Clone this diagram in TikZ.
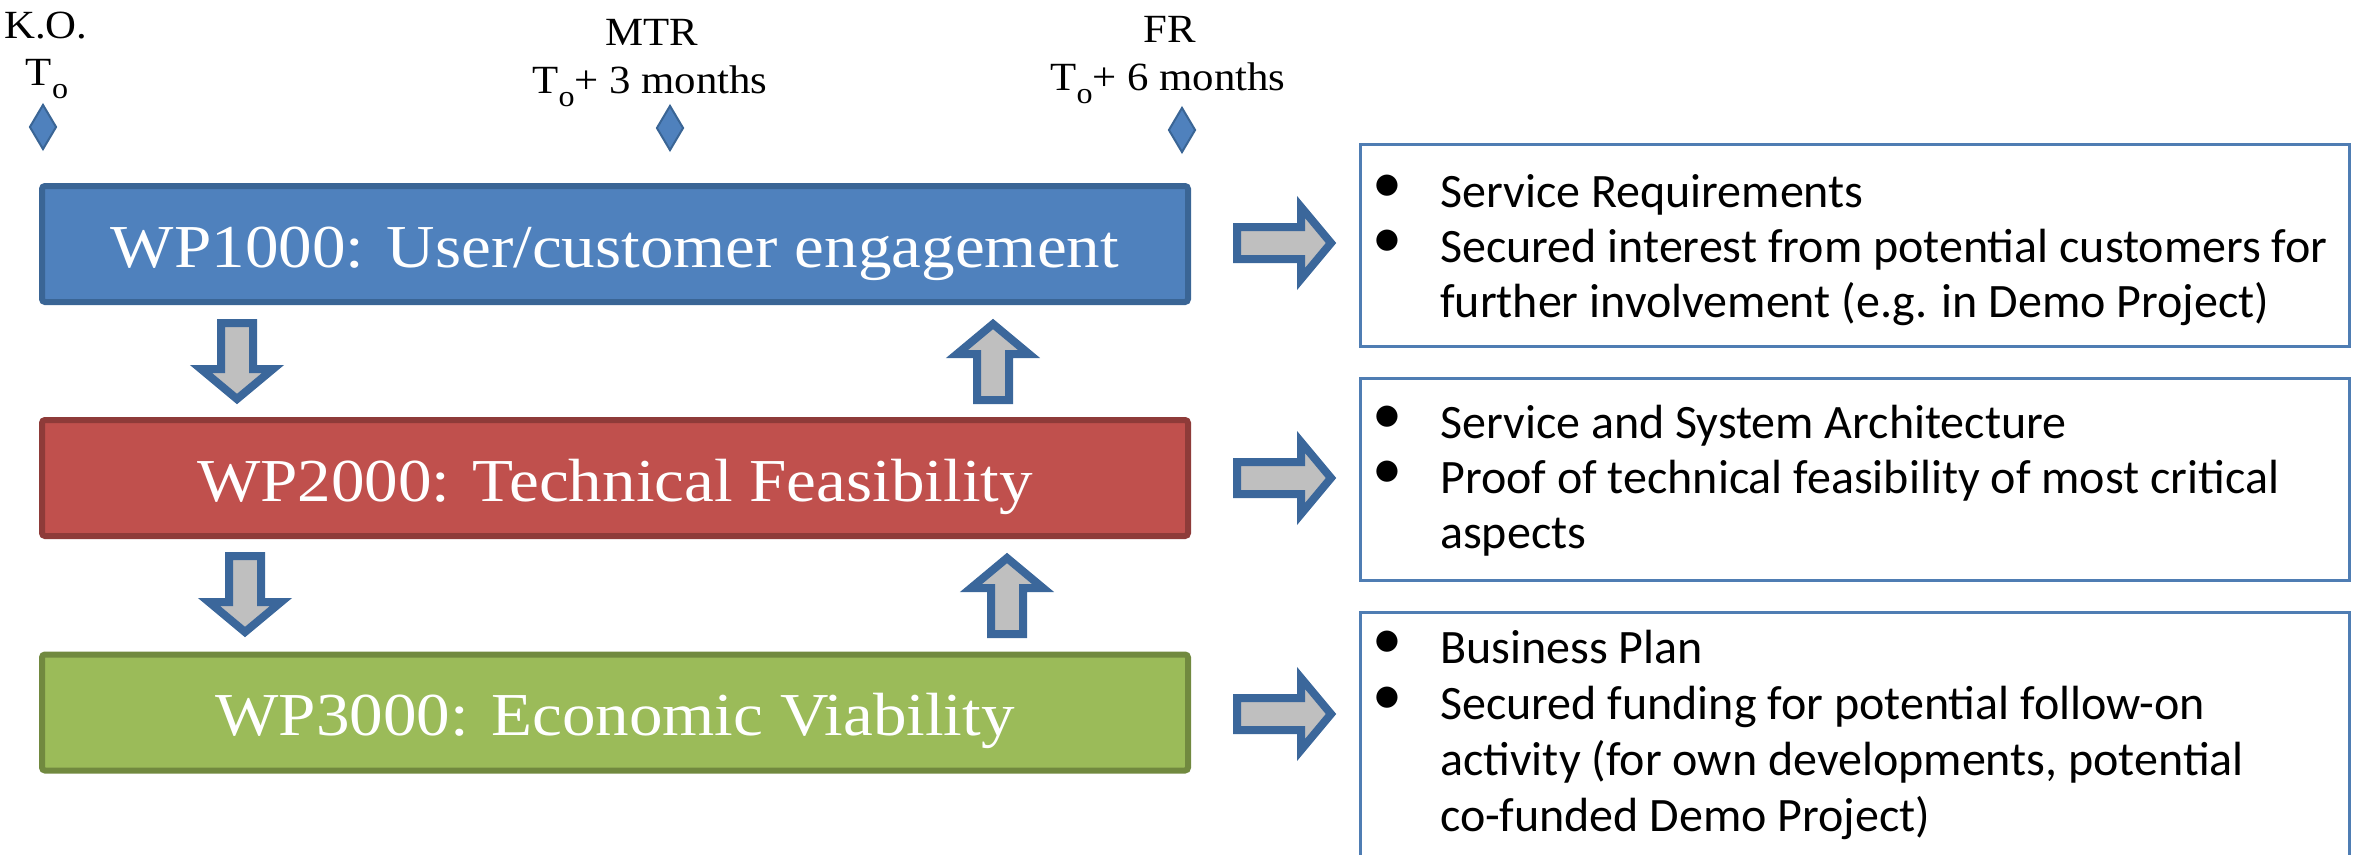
\documentclass[tikz,border=0pt]{standalone}
\usepackage{fontspec}
\usepackage{graphicx}
\setmainfont{Liberation Serif}
\newfontfamily\calfont{Carlito}
\usetikzlibrary{shapes.geometric}
\definecolor{wpblue}{HTML}{4F81BD}
\definecolor{wpblueD}{HTML}{3A6595}
\definecolor{wpred}{HTML}{C0504D}
\definecolor{wpredD}{HTML}{8E3B39}
\definecolor{wpgreen}{HTML}{9BBB59}
\definecolor{wpgreenD}{HTML}{71893F}
\definecolor{arrgray}{HTML}{BFBFBF}
\definecolor{arrblue}{HTML}{3B679B}
\definecolor{boxblue}{HTML}{4F7DB3}
\newcommand{\tsub}{\raisebox{-13pt}{\fontsize{30}{30}\selectfont o}}
\begin{document}
\begin{tikzpicture}[x=1pt,y=-1pt,
  wpbox/.style={draw, line width=6pt, minimum width=1146pt, minimum height=116pt,
    rounded corners=3pt, text=white, font=\fontsize{61}{70}\selectfont,
    text height=46pt, text depth=0pt, inner sep=0pt},
  outbox/.style={draw=boxblue, line width=3pt, fill=white, inner sep=0pt, minimum width=989pt},
  btxt/.style={font=\calfont\fontsize{48}{56}\selectfont, inner sep=0pt, anchor=base west},
  bdot/.style={font=\calfont\fontsize{60}{60}\selectfont, inner sep=0pt, anchor=center},
  toplab/.style={font=\fontsize{40}{48}\selectfont, inner sep=0pt, anchor=base},
  mdiam/.style={diamond, fill=wpblue, draw=wpblueD, line width=2pt, minimum width=27pt, minimum height=45pt, inner sep=0pt},
  blockarrow/.style={fill=arrgray, draw=arrblue, line width=8pt},
  rarr/.pic={\path[blockarrow] (-47,-16) -- (17,-16) -- (17,-36) -- (47,0) -- (17,36) -- (17,16) -- (-47,16) -- cycle;},
  darr/.pic={\path[blockarrow] (-16,-39) -- (16,-39) -- (16,7) -- (36,7) -- (0,37) -- (-36,7) -- (-16,7) -- cycle;}
]
\useasboundingbox (0,0) rectangle (2358,854);
\clip (0,0) rectangle (2358,854);

% milestones
\node[toplab] (ko) at (46,38) {\scalebox{1.07}[1]{K.O.}};
\node[toplab] (kot) at (47,85) {\scalebox{1.07}[1]{T\tsub}};
\node[toplab] (mtr) at (652,45) {\scalebox{1.07}[1]{MTR}};
\node[toplab] (mtrt) at (650,93) {\scalebox{1.07}[1]{T\tsub+ 3 months}};
\node[toplab] (fr) at (1170,42) {\scalebox{1.07}[1]{FR}};
\node[toplab] (frt) at (1168,90) {\scalebox{1.07}[1]{T\tsub+ 6 months}};
\node[mdiam] (d1) at (43,127) {};
\node[mdiam] (d2) at (670,128) {};
\node[mdiam] (d3) at (1182,130) {};

% work packages
\node[wpbox, fill=wpblue, draw=wpblueD] (wp1) at (615,244) {\scalebox{1.1}[1]{WP1000: User/customer engagement}};
\node[wpbox, fill=wpred, draw=wpredD] (wp2) at (615,478) {\scalebox{1.1}[1]{WP2000: Technical Feasibility}};
\node[wpbox, fill=wpgreen, draw=wpgreenD] (wp3) at (615,712.5) {\scalebox{1.1}[1]{WP3000: Economic Viability}};

% vertical arrows
\pic at (237,362) {darr};
\pic at (245,595) {darr};
\pic[rotate=180] at (993,361) {darr};
\pic[rotate=180] at (1007,595) {darr};

% right arrows
\pic at (1284,243) {rarr};
\pic at (1284,478) {rarr};
\pic at (1284,714) {rarr};

% output boxes
\node[outbox, minimum height=202pt] (ob1) at (1855,245.5) {};
\node[outbox, minimum height=202pt] (ob2) at (1855,479.5) {};
\node[outbox, minimum height=256pt] (ob3) at (1855,740.5) {};

\node[bdot] (b11) at (1387,189) {\textbullet};
\node[btxt] (t11) at (1440,207) {Service Requirements};
\node[bdot] (b12) at (1387,244) {\textbullet};
\node[btxt] (t12) at (1440,262) {Secured interest from potential customers for};
\node[btxt] (t13) at (1440,317) {further involvement (e.g. in Demo Project)};

\node[bdot] (b21) at (1387,420) {\textbullet};
\node[btxt] (t21) at (1440,438) {Service and System Architecture};
\node[bdot] (b22) at (1387,475) {\textbullet};
\node[btxt] (t22) at (1440,493) {Proof of technical feasibility of most critical};
\node[btxt] (t23) at (1440,548) {aspects};

\node[bdot] (b31) at (1387,645) {\textbullet};
\node[btxt] (t31) at (1440,663) {Business Plan};
\node[bdot] (b32) at (1387,701) {\textbullet};
\node[btxt] (t32) at (1440,719) {Secured funding for potential follow-on};
\node[btxt] (t33) at (1440,775) {activity (for own developments, potential};
\node[btxt] (t34) at (1440,831) {co-funded Demo Project)};
\end{tikzpicture}
\end{document}
